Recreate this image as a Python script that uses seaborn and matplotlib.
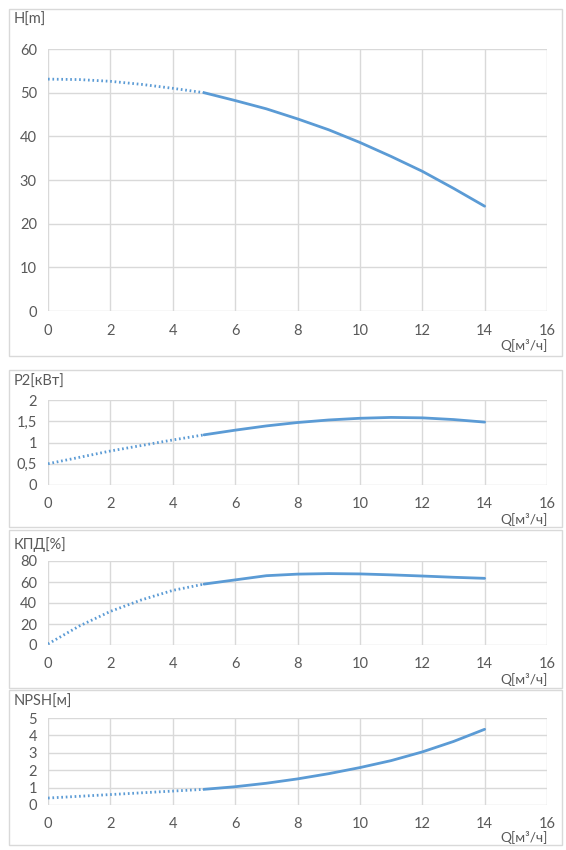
import numpy as np
import pandas as pd
import matplotlib
matplotlib.use("Agg")
import matplotlib.pyplot as plt
import seaborn as sns
from matplotlib.patches import Rectangle

# flow values, m3/h
q_dot = [0, 1, 2, 3, 4, 5]
q_line = [5, 6, 7, 8, 9, 10, 11, 12, 13, 14]

# head H[m]
h_dot = [53.1, 53.0, 52.6, 51.9, 51.0, 50.0]
h_line = [50.0, 48.2, 46.3, 44.0, 41.5, 38.6, 35.4, 32.0, 28.1, 24.0]

# power P2[kW]
p_dot = [0.5, 0.65, 0.8, 0.93, 1.06, 1.18]
p_line = [1.18, 1.29, 1.39, 1.47, 1.53, 1.57, 1.59, 1.58, 1.54, 1.48]

# efficiency [%]
e_dot = [1, 18, 32, 43, 52, 58]
e_line = [58, 62, 66, 67.5, 68, 67.7, 66.8, 65.7, 64.5, 63.5]

# NPSH [m]
n_dot = [0.4, 0.5, 0.6, 0.7, 0.8, 0.9]
n_line = [0.9, 1.05, 1.25, 1.5, 1.8, 2.15, 2.55, 3.05, 3.65, 4.35]

ylabels = ["H[m]", "P2[кВт]", "КПД[%]", "NPSH[м]"]
yticks = [
    ([0, 10, 20, 30, 40, 50, 60], ["0", "10", "20", "30", "40", "50", "60"]),
    ([0, 0.5, 1, 1.5, 2], ["0", "0,5", "1", "1,5", "2"]),
    ([0, 20, 40, 60, 80], ["0", "20", "40", "60", "80"]),
    ([0, 1, 2, 3, 4, 5], ["0", "1", "2", "3", "4", "5"]),
]
xticks = [0, 2, 4, 6, 8, 10, 12, 14, 16]

sns.set_style("white")
plt.rcParams["font.family"] = ["Lato", "DejaVu Sans"]

W, H = 566, 850
fig = plt.figure(figsize=(W / 100, H / 100), dpi=100)
fig.patch.set_facecolor("white")

blue = "#5B9BD5"
grid = "#D9D9D9"
txt = "#595959"

# pixel layout: (box top, box bottom, plot top, plot bottom, title y, q label y)
panels = [
    (9, 356, 49, 311, 20, 345),
    (370, 527, 400, 485, 382, 519),
    (530, 688, 561, 645, 545, 679),
    (690, 845, 718, 805, 702, 837),
]
x0, x1 = 48, 547

series = [(h_dot, h_line), (p_dot, p_line), (e_dot, e_line), (n_dot, n_line)]

for i, (bt, bb, pt, pb, ty, qy) in enumerate(panels):
    fig.patches.append(Rectangle((9 / W, 1 - bb / H), (562 - 9) / W, (bb - bt) / H,
                                 transform=fig.transFigure, fill=False,
                                 edgecolor="#D9D9D9", lw=1))
    ax = fig.add_axes([x0 / W, 1 - pb / H, (x1 - x0) / W, (pb - pt) / H])
    dots, line = series[i]
    sns.lineplot(x=q_dot, y=dots, ax=ax, color=blue, lw=2, linestyle=(0, (0.6, 1.0)))
    sns.lineplot(x=q_line, y=line, ax=ax, color=blue, lw=2)
    ticks, labels = yticks[i]
    ax.set_xlim(0, 16)
    ax.set_ylim(ticks[0], ticks[-1])
    ax.set_xticks(xticks)
    ax.set_xticklabels([str(t) for t in xticks])
    ax.set_yticks(ticks)
    ax.set_yticklabels(labels)
    ax.grid(True, color=grid, lw=1)
    ax.set_axisbelow(True)
    for s in ax.spines.values():
        s.set_visible(False)
    ax.tick_params(axis="both", length=0, labelsize=10.5, labelcolor=txt)
    ax.tick_params(axis="x", pad=9)
    ax.tick_params(axis="y", pad=8)
    fig.text(14 / W, 1 - ty / H, ylabels[i], fontsize=10.5, color=txt,
             ha="left", va="center")
    fig.text(548 / W, 1 - qy / H, "Q[м³/ч]", fontsize=10, color=txt,
             ha="right", va="center")

fig.savefig("out.png", dpi=100, facecolor="white")
